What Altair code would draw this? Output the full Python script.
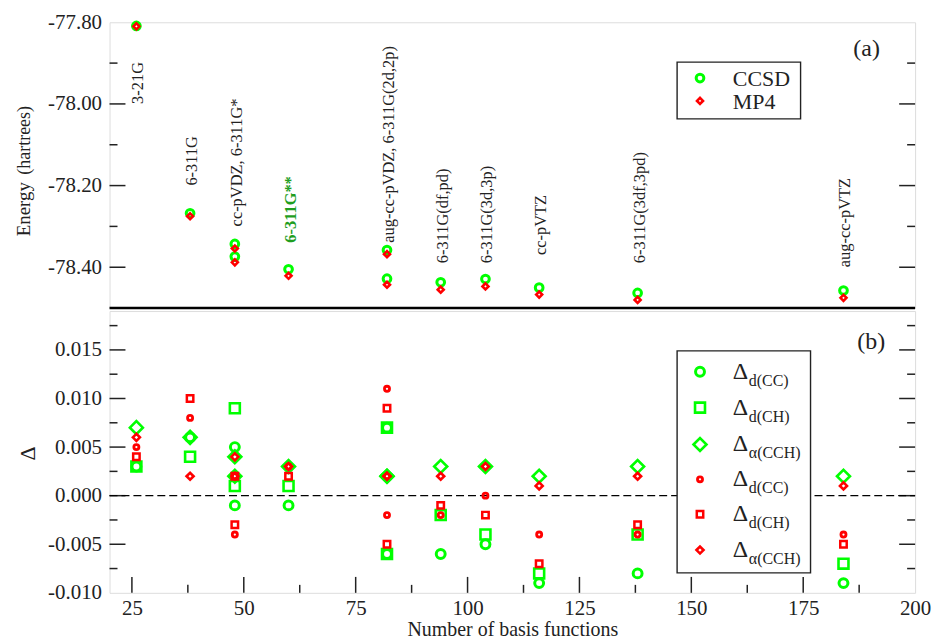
import altair as alt
import pandas as pd

# ---------------------------------------------------------------- data
# number of basis functions for each basis set (two sets share 48 and 82)
n_basis = [26, 38, 48, 48, 60, 82, 82, 94, 104, 116, 138, 184]

# total energies (hartrees)
e_ccsd = [-77.809, -78.268, -78.343, -78.374, -78.405, -78.358,
          -78.428, -78.437, -78.429, -78.450, -78.463, -78.457]
e_mp4 = [-77.810, -78.275, -78.354, -78.388, -78.421, -78.368,
         -78.443, -78.455, -78.447, -78.467, -78.480, -78.475]

# basis-set names written above the energy points
label_text = ["3-21G", "6-311G", "cc-pVDZ, 6-311G*", "6-311G**",
              "aug-cc-pVDZ, 6-311G(2d,2p)", "6-311G(df,pd)", "6-311G(3d,3p)",
              "cc-pVTZ", "6-311G(3df,3pd)", "aug-cc-pVTZ"]
label_n = [26, 38, 48, 60, 82, 94, 104, 116, 138, 184]
label_e = [-78.00, -78.20, -78.30, -78.34, -78.34, -78.39, -78.39, -78.37, -78.39, -78.40]
label_hi = [False, False, False, True, False, False, False, False, False, False]

# geometry deviations
ccsd_d_cc = [0.003, 0.006, 0.005, -0.001, -0.001, 0.007, -0.006, -0.006, -0.005, -0.009, -0.008, -0.009]
ccsd_d_ch = [0.003, 0.004, 0.009, 0.001, 0.001, 0.007, -0.006, -0.002, -0.004, -0.008, -0.004, -0.007]
ccsd_a_cch = [0.007, 0.006, 0.004, 0.002, 0.003, 0.002, 0.002, 0.003, 0.003, 0.002, 0.003, 0.002]
mp4_d_cc = [0.005, 0.008, 0.002, -0.004, 0.003, 0.011, -0.002, -0.002, 0.000, -0.004, -0.004, -0.004]
mp4_d_ch = [0.004, 0.010, 0.002, -0.003, 0.002, 0.009, -0.005, -0.001, -0.002, -0.007, -0.003, -0.005]
mp4_a_cch = [0.006, 0.002, 0.004, 0.002, 0.003, 0.002, 0.002, 0.002, 0.003, 0.001, 0.002, 0.001]

# axis tick values
x_major = [25, 50, 75, 100, 125, 150, 175]
x_minor = [37.5, 62.5, 87.5, 112.5, 137.5, 162.5, 187.5]
x_labels = [25, 50, 75, 100, 125, 150, 175, 200]
e_major = [-78.0, -78.2, -78.4]
e_minor = [-77.9, -78.1, -78.3]
e_labels = [-77.8, -78.0, -78.2, -78.4]
d_major = [-0.005, 0.0, 0.005, 0.010, 0.015]
d_minor = [-0.0075, -0.0025, 0.0025, 0.0075, 0.0125, 0.0175]
d_labels = [-0.010, -0.005, 0.0, 0.005, 0.010, 0.015]

# ---------------------------------------------------------------- style
SERIF = "Liberation Serif"
INK = "#222222"
GREEN = "#00ff00"
RED = "#ff0000"
W = 809
H_TOP = 287
H_BOT = 283
MAJOR = 16
MINOR = 8

xs = alt.Scale(domain=[20, 200], nice=False, zero=False)
ys_top = alt.Scale(domain=[-78.5, -77.8], nice=False, zero=False)
ys_bot = alt.Scale(domain=[-0.010, 0.019], nice=False, zero=False)


def y_axis(values, fmt):
    return alt.Axis(values=values, ticks=False, domain=False, grid=False,
                    labelExpr=f"replace(format(datum.value, '{fmt}'), '\u2212', '-')",
                    labelFont=SERIF, labelFontSize=21, labelColor=INK,
                    labelPadding=8, title=None)


axis_top = y_axis(e_labels, ".2f")
axis_bot = y_axis(d_labels, ".3f")
axis_x = alt.Axis(values=x_labels, ticks=False, domain=False, grid=False, format="d",
                  labelFont=SERIF, labelFontSize=21, labelColor=INK, labelPadding=5,
                  labelFlush=False, title="Number of basis functions",
                  titleFont=SERIF, titleFontSize=20, titleFontWeight="normal",
                  titleColor=INK, titlePadding=1)

one = pd.DataFrame({"k": [0]})


def y_ticks(values, scale, axis, length):
    df = pd.DataFrame({"v": values})
    left = alt.Chart(df).mark_rule(color=INK, strokeWidth=1.5).encode(
        y=alt.Y("v:Q", scale=scale, axis=axis), x=alt.value(0), x2=alt.value(length))
    right = alt.Chart(df).mark_rule(color=INK, strokeWidth=1.5).encode(
        y=alt.Y("v:Q", scale=scale, axis=axis), x=alt.value(W - length), x2=alt.value(W))
    return [left, right]


def x_ticks(values, length, xaxis):
    df = pd.DataFrame({"v": values})
    return alt.Chart(df).mark_rule(color=INK, strokeWidth=1.5).encode(
        x=alt.X("v:Q", scale=xs, axis=xaxis), y=alt.value(H_BOT - length), y2=alt.value(H_BOT))


def key_symbol(px, py, shape, color, size, sw):
    return alt.Chart(one).mark_point(shape=shape, filled=False, color=color,
                                     size=size, strokeWidth=sw, opacity=1).encode(
        x=alt.value(px), y=alt.value(py))


def key_text(px, py, text, size, **kw):
    return alt.Chart(one).mark_text(align="left", baseline="middle", font=SERIF,
                                    fontSize=size, color=INK, **kw).encode(
        x=alt.value(px), y=alt.value(py), text=alt.value(text))


# ---------------------------------------------------------------- (a) energies
energy = pd.DataFrame({"n": n_basis, "ccsd": e_ccsd, "mp4": e_mp4})
labels = pd.DataFrame({"n": label_n, "e": label_e, "name": label_text, "hi": label_hi})

ccsd_pts = alt.Chart(energy).mark_point(shape="circle", filled=False, color=GREEN, size=60,
                                        strokeWidth=3, opacity=1).encode(
    x=alt.X("n:Q", scale=xs, axis=None), y=alt.Y("ccsd:Q", scale=ys_top, axis=axis_top))
mp4_pts = alt.Chart(energy).mark_point(shape="diamond", filled=False, color=RED, size=36,
                                       strokeWidth=2.6, opacity=1).encode(
    x=alt.X("n:Q", scale=xs, axis=None), y=alt.Y("mp4:Q", scale=ys_top, axis=axis_top))

name_plain = alt.Chart(labels).transform_filter("!datum.hi").mark_text(
    angle=270, align="left", baseline="middle", font=SERIF, fontSize=16.5, color=INK, dy=2).encode(
    x=alt.X("n:Q", scale=xs, axis=None), y=alt.Y("e:Q", scale=ys_top, axis=axis_top), text="name:N")
name_hi = alt.Chart(labels).transform_filter("datum.hi").mark_text(
    angle=270, align="left", baseline="middle", font=SERIF, fontSize=16.5, dy=2,
    fontWeight="bold", color="#1f9e1f").encode(
    x=alt.X("n:Q", scale=xs, axis=None), y=alt.Y("e:Q", scale=ys_top, axis=axis_top), text="name:N")

top_layers = []
top_layers += y_ticks(e_major, ys_top, axis_top, MAJOR)
top_layers += y_ticks(e_minor, ys_top, axis_top, MINOR)
top_layers += [ccsd_pts, mp4_pts, name_plain, name_hi]
# key for the energy panel
top_layers += [
    alt.Chart(one).mark_rect(fill="white", stroke=INK, strokeWidth=1.4).encode(
        x=alt.value(570), x2=alt.value(694), y=alt.value(40), y2=alt.value(97)),
    key_symbol(593, 56, "circle", GREEN, 60, 3),
    key_text(626, 57, "CCSD", 22),
    key_symbol(593, 79, "diamond", RED, 36, 2.6),
    key_text(626, 80, "MP4", 22),
    key_text(747, 27, "(a)", 24),
    # y title: "Energy (hartrees)"
    alt.Chart(one).mark_text(angle=270, align="left", baseline="alphabetic", font=SERIF,
                             fontSize=19, color=INK).encode(
        x=alt.value(-80), y=alt.value(215), text=alt.value("Energy")),
    alt.Chart(one).mark_text(angle=270, align="left", baseline="alphabetic", font=SERIF,
                             fontSize=18, color=INK).encode(
        x=alt.value(-80), y=alt.value(153), text=alt.value("(hartrees)")),
    # heavy separator between the panels
    alt.Chart(one).mark_rule(color="black", strokeWidth=2.5).encode(
        x=alt.value(0), x2=alt.value(W), y=alt.value(H_TOP)),
]
top = alt.layer(*top_layers).properties(width=W, height=H_TOP)

# ---------------------------------------------------------------- (b) deviations
dev = pd.DataFrame({"n": n_basis,
                    "ccsd_d_cc": ccsd_d_cc, "ccsd_d_ch": ccsd_d_ch, "ccsd_a_cch": ccsd_a_cch,
                    "mp4_d_cc": mp4_d_cc, "mp4_d_ch": mp4_d_ch, "mp4_a_cch": mp4_a_cch})

series = [
    ("ccsd_d_cc", "circle", GREEN, 80, 3.0, "d(CC)"),
    ("ccsd_d_ch", "square", GREEN, 100, 2.6, "d(CH)"),
    ("ccsd_a_cch", "diamond", GREEN, 170, 2.6, "\u03b1(CCH)"),
    ("mp4_d_cc", "circle", RED, 26, 2.8, "d(CC)"),
    ("mp4_d_ch", "square", RED, 42, 2.5, "d(CH)"),
    ("mp4_a_cch", "diamond", RED, 50, 2.6, "\u03b1(CCH)"),
]

zero = pd.DataFrame({"z": [0.0]})
bot_layers = []
bot_layers += y_ticks(d_major, ys_bot, axis_bot, MAJOR)
bot_layers += y_ticks(d_minor, ys_bot, axis_bot, MINOR)
bot_layers += [x_ticks(x_major, MAJOR, axis_x), x_ticks(x_minor, MINOR, axis_x)]
bot_layers.append(alt.Chart(zero).mark_rule(color="black", strokeWidth=1.3, strokeDash=[8, 4]).encode(
    y=alt.Y("z:Q", scale=ys_bot, axis=axis_bot), x=alt.value(0), x2=alt.value(W)))
for col, shape, color, size, sw, _ in series:
    bot_layers.append(alt.Chart(dev).mark_point(shape=shape, filled=False, color=color, size=size,
                                                strokeWidth=sw, opacity=1).encode(
        x=alt.X("n:Q", scale=xs, axis=axis_x), y=alt.Y(f"{col}:Q", scale=ys_bot, axis=axis_bot)))

# key for the deviation panel
bot_layers.append(alt.Chart(one).mark_rect(fill="white", stroke=INK, strokeWidth=1.4).encode(
    x=alt.value(570), x2=alt.value(704), y=alt.value(40), y2=alt.value(263)))
row_y = [61, 97, 134, 169, 204, 240]
for (col, shape, color, size, sw, sub), ry in zip(series, row_y):
    bot_layers += [
        key_symbol(593, ry, shape, color, size, sw),
        key_text(626, ry, "\u0394", 24),
        key_text(642, ry + 9, sub, 16),
    ]
bot_layers += [
    key_text(751, 31, "(b)", 24),
    alt.Chart(one).mark_text(angle=270, align="center", baseline="middle", font=SERIF,
                             fontSize=22, color=INK).encode(
        x=alt.value(-82), y=alt.value(143), text=alt.value("\u0394")),
]
bottom = alt.layer(*bot_layers).properties(width=W, height=H_BOT)

chart = alt.vconcat(top, bottom, spacing=0).resolve_scale(x="independent").properties(
    padding={"left": 14, "top": 9, "right": 4, "bottom": 0}
).configure_view(stroke=INK, strokeWidth=1.5).configure(background="white")

chart.save("out.html", embed_options={"renderer": "svg", "actions": False})
